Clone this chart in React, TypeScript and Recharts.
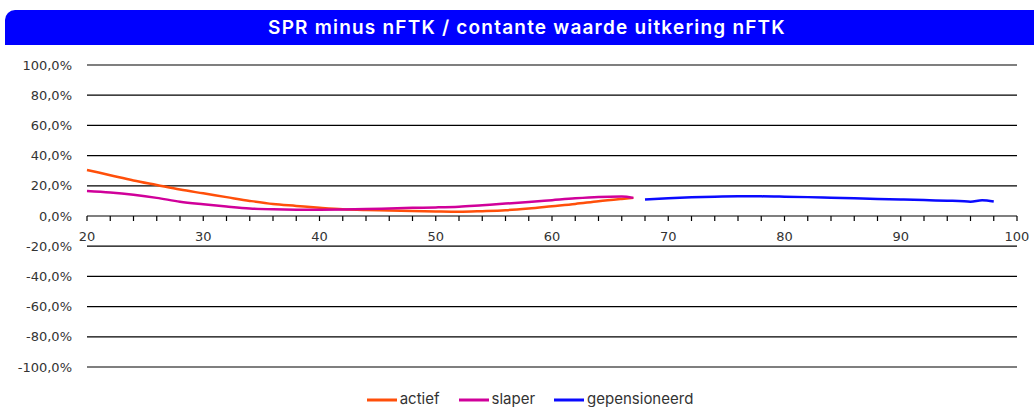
import React from 'react';
import { LineChart, Line, XAxis, YAxis, CartesianGrid, ReferenceLine, Legend } from 'recharts';

const TITLE = 'SPR minus nFTK / contante waarde uitkering nFTK';

const agesWorking = [20, 22, 24, 26, 28, 30, 32, 34, 36, 38, 40, 42, 44, 46, 48, 50, 52, 54, 56, 58, 60, 62, 64, 66, 67];
const actiefValues = [30.5, 27, 23.5, 20.5, 17.5, 15, 12.5, 10, 7.9, 6.7, 5.5, 4.5, 4, 3.7, 3.3, 3, 2.8, 3.2, 3.8, 5, 6.5, 8, 9.8, 11.3, 12];
const slaperValues = [16.5, 15.5, 14, 12, 9.5, 7.8, 6.3, 5, 4.4, 4.2, 4.2, 4.3, 4.6, 5, 5.4, 5.7, 6.2, 7.2, 8.2, 9.3, 10.5, 11.7, 12.6, 12.9, 12];
const agesRetired = [68, 70, 72, 74, 76, 78, 80, 82, 84, 86, 88, 90, 92, 93, 94, 95, 96, 97, 98];
const gepensioneerdValues = [11, 11.8, 12.4, 12.8, 13, 13, 12.8, 12.5, 12.1, 11.7, 11.3, 11, 10.6, 10.3, 10.1, 10, 9.5, 10.4, 9.6];

const yTicks = [-100, -80, -60, -40, -20, 0, 20, 40, 60, 80, 100];
const xMajorTicks = [20, 30, 40, 50, 60, 70, 80, 90, 100];
const xMinorTicks = [20, 22, 24, 26, 28, 30, 32, 34, 36, 38, 40, 42, 44, 46, 48, 50, 52, 54, 56, 58, 60, 62, 64, 66, 68, 70, 72, 74, 76, 78, 80, 82, 84, 86, 88, 90, 92, 94, 96, 98, 100];
const TICK_LEN = 3.3; // in value units (downwards from 0)

const seriesNames = ['actief', 'slaper', 'gepensioneerd'];
const seriesColors = ['#FF4F0A', '#D0009A', '#0A0AFF'];

const actiefData = agesWorking.map((a, i) => ({ age: a, v: actiefValues[i] }));
const slaperData = agesWorking.map((a, i) => ({ age: a, v: slaperValues[i] }));
const gepData = agesRetired.map((a, i) => ({ age: a, v: gepensioneerdValues[i] }));

const fmtPct = (v: number) => `${v.toFixed(1).replace('.', ',')}%`;

const LegendContent = () => (
  <div style={{ display: 'flex', justifyContent: 'center', alignItems: 'center', fontFamily: 'Inter, sans-serif', fontSize: 15, color: '#333', lineHeight: '20px' }}>
    {seriesNames.map((n, i) => (
      <div key={n} style={{ display: 'flex', alignItems: 'center', marginRight: i < seriesNames.length - 1 ? 19 : 0 }}>
        <svg width={30} height={20} style={{ marginRight: 3 }}>
          <line x1={0} y1={11} x2={30} y2={11} stroke={seriesColors[i]} strokeWidth={3} />
        </svg>
        <span>{n}</span>
      </div>
    ))}
  </div>
);

export default function App() {
  return (
    <div style={{ position: 'absolute', left: 0, top: 0, width: 1034, height: 407, overflow: 'hidden', background: '#fff' }}>
      <div
        style={{
          position: 'absolute',
          left: 5,
          top: 10,
          width: 1029,
          height: 35,
          background: '#0000FF',
          borderRadius: '10px 0 0 0',
          color: '#fff',
          fontFamily: 'Inter, sans-serif',
          fontWeight: 600,
          fontSize: 19,
          letterSpacing: 1.2,
          lineHeight: '35px',
          textAlign: 'center',
          paddingLeft: 15,
          boxSizing: 'border-box',
        }}
      >
        {TITLE}
      </div>
      <LineChart width={1034} height={407} margin={{ top: 65, right: 17, bottom: 40, left: 0 }}>
        <CartesianGrid vertical={false} stroke="#000" strokeWidth={1.2} />
        <XAxis type="number" dataKey="age" domain={[20, 100]} hide allowDuplicatedCategory={false} />
        <YAxis
          type="number"
          domain={[-100, 100]}
          ticks={yTicks}
          tickFormatter={fmtPct}
          axisLine={false}
          tickLine={false}
          tickSize={0}
          tickMargin={15}
          width={87}
          interval={0}
          tick={{ fill: '#333', fontSize: 13, fontFamily: 'DejaVu Sans, sans-serif' }}
        />
        {xMinorTicks.map((t) => (
          <ReferenceLine
            key={t}
            segment={[{ x: t, y: 0 }, { x: t, y: -TICK_LEN }]}
            stroke="#000"
            strokeWidth={1.2}
            label={
              xMajorTicks.includes(t)
                ? { value: String(t), position: 'bottom', offset: 11, fill: '#333', fontSize: 13, fontFamily: 'DejaVu Sans, sans-serif' }
                : undefined
            }
          />
        ))}
        <Line data={actiefData} dataKey="v" name={seriesNames[0]} type="monotone" stroke={seriesColors[0]} strokeWidth={2.5} dot={false} isAnimationActive={false} />
        <Line data={slaperData} dataKey="v" name={seriesNames[1]} type="monotone" stroke={seriesColors[1]} strokeWidth={2.5} dot={false} isAnimationActive={false} />
        <Line data={gepData} dataKey="v" name={seriesNames[2]} type="monotone" stroke={seriesColors[2]} strokeWidth={2.5} dot={false} isAnimationActive={false} />
        <Legend
          verticalAlign="middle"
          align="center"
          layout="horizontal"
          content={<LegendContent />}
          wrapperStyle={{ top: 389, left: 27, width: 1006 }}
        />
      </LineChart>
    </div>
  );
}
